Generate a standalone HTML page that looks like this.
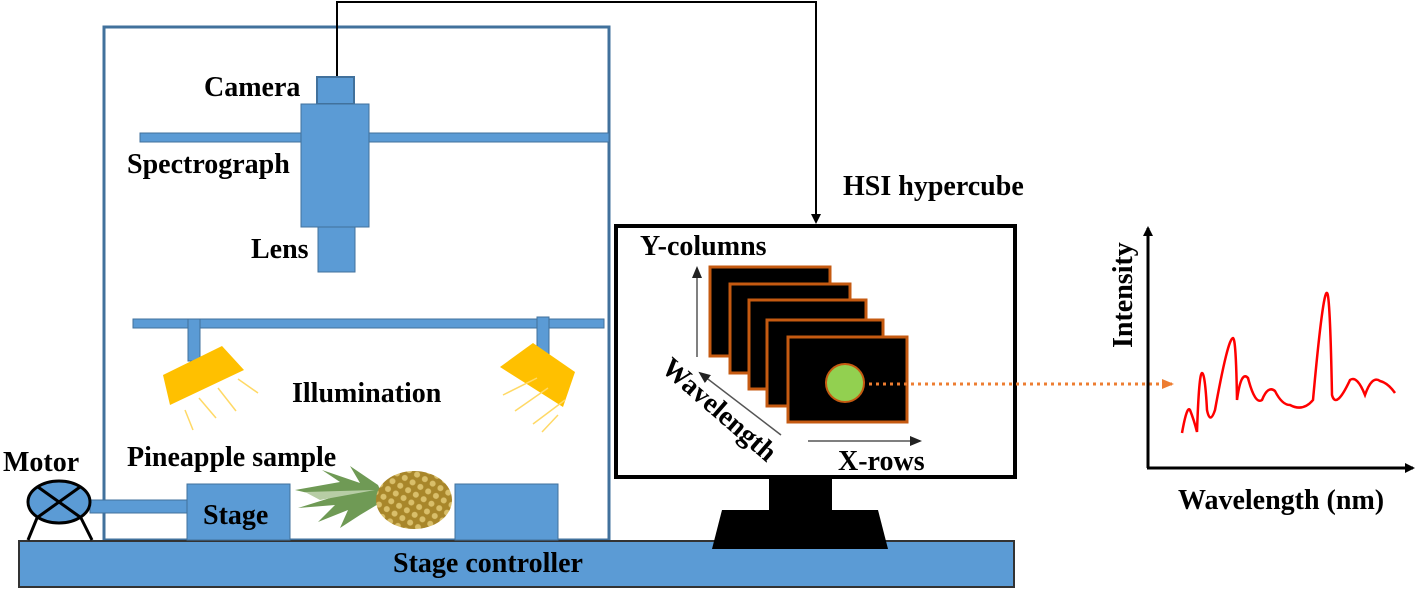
<!DOCTYPE html>
<html><head><meta charset="utf-8"><style>
html,body{margin:0;padding:0;background:#fff;}
svg{display:block;}
text{font-family:"Liberation Serif",serif;font-weight:bold;fill:#000;}
</style></head><body>
<svg width="1417" height="589" viewBox="0 0 1417 589" xmlns="http://www.w3.org/2000/svg">
<defs>
<marker id="ab" markerWidth="10" markerHeight="10" refX="8" refY="5" orient="auto" markerUnits="userSpaceOnUse"><path d="M0,0 L10,5 L0,10 z" fill="#000"/></marker>
<marker id="ag" markerWidth="12" markerHeight="10" refX="10" refY="5" orient="auto" markerUnits="userSpaceOnUse"><path d="M0,0 L12,5 L0,10 z" fill="#222"/></marker>
<marker id="ao" markerWidth="12" markerHeight="10" refX="10" refY="5" orient="auto" markerUnits="userSpaceOnUse"><path d="M0,0 L12,5 L0,10 z" fill="#ed7d31"/></marker>
<pattern id="pp" width="9" height="9" patternUnits="userSpaceOnUse" patternTransform="rotate(30)">
<rect width="9" height="9" fill="#a8862a"/><circle cx="4.5" cy="4.5" r="3" fill="#d9bf6a"/>
</pattern>
</defs>
<rect x="104" y="27" width="505" height="513" fill="none" stroke="#41719c" stroke-width="3"/>
<polyline points="337,77 337,2 816,2 816,222" fill="none" stroke="#000" stroke-width="2" marker-end="url(#ab)"/>
<rect x="140" y="133" width="469" height="9" fill="#5b9bd5" stroke="#41719c" stroke-width="1"/>
<rect x="317" y="77" width="37" height="27" fill="#5b9bd5" stroke="#41719c" stroke-width="2"/>
<rect x="301" y="104" width="68" height="123" fill="#5b9bd5" stroke="#41719c" stroke-width="1"/>
<rect x="318" y="227" width="37" height="45" fill="#5b9bd5" stroke="#41719c" stroke-width="1"/>
<rect x="133" y="319" width="471" height="9" fill="#5b9bd5" stroke="#41719c" stroke-width="1"/>
<rect x="188" y="319" width="12" height="42" fill="#5b9bd5" stroke="#41719c" stroke-width="1"/>
<rect x="537" y="317" width="12" height="38" fill="#5b9bd5" stroke="#41719c" stroke-width="1"/>
<polygon points="163,375 222,346 244,370 170,405" fill="#ffc000"/>
<polygon points="500,367 533,343 575,372 563,407" fill="#ffc000"/>
<g stroke="#ffd966" stroke-width="1.5">
<line x1="238" y1="379" x2="258" y2="393"/><line x1="218" y1="388" x2="236" y2="411"/><line x1="199" y1="398" x2="216" y2="418"/><line x1="185" y1="410" x2="193" y2="430"/>
<line x1="537" y1="378" x2="503" y2="395"/><line x1="548" y1="388" x2="515" y2="411"/><line x1="565" y1="400" x2="533" y2="424"/><line x1="558" y1="415" x2="542" y2="432"/>
</g>
<rect x="19" y="541" width="995" height="46" fill="#5b9bd5" stroke="#333" stroke-width="2"/>
<rect x="90" y="500" width="97" height="13" fill="#5b9bd5" stroke="#41719c" stroke-width="1"/>
<line x1="37" y1="518" x2="28" y2="540" stroke="#000" stroke-width="3"/>
<line x1="81" y1="518" x2="92" y2="540" stroke="#000" stroke-width="3"/>
<ellipse cx="59" cy="502" rx="31" ry="21" fill="#5b9bd5" stroke="#000" stroke-width="3"/>
<line x1="38" y1="487" x2="80" y2="517" stroke="#000" stroke-width="3"/>
<line x1="80" y1="487" x2="38" y2="517" stroke="#000" stroke-width="3"/>
<rect x="187" y="484" width="103" height="56" fill="#5b9bd5" stroke="#41719c" stroke-width="1"/>
<rect x="455" y="484" width="103" height="56" fill="#5b9bd5" stroke="#41719c" stroke-width="1"/>
<!-- pineapple -->
<g>
<path d="M295,490 L340,482 L322,470 L360,483 L350,466 L378,485 L385,500 L360,515 L340,528 L348,510 L318,522 L335,505 L298,508 L330,498 Z" fill="#6f9a55"/>
<path d="M305,492 L375,490 L320,500 Z" fill="#b7cda5"/>
<ellipse cx="414" cy="500" rx="38" ry="29" fill="url(#pp)"/>
</g>
<rect x="616" y="226" width="399" height="251" fill="#fff" stroke="#000" stroke-width="4"/>
<rect x="769" y="479" width="63" height="32" fill="#000"/>
<polygon points="722,510 878,510 888,549 712,549" fill="#000"/>
<g fill="#000" stroke="#c55a11" stroke-width="3">
<rect x="710" y="267" width="120" height="89"/>
<rect x="730" y="284" width="120" height="89"/>
<rect x="749" y="300" width="117" height="89"/>
<rect x="767" y="320" width="116" height="86"/>
<rect x="788" y="337" width="119" height="85"/>
</g>
<circle cx="845" cy="383" r="19" fill="#92d050" stroke="#c55a11" stroke-width="2"/>
<line x1="869" y1="384" x2="1172" y2="384" stroke="#ed7d31" stroke-width="3" stroke-dasharray="3,4" marker-end="url(#ao)"/>
<line x1="697" y1="357" x2="697" y2="268" stroke="#555" stroke-width="1.5" marker-end="url(#ag)"/>
<line x1="781" y1="435" x2="700" y2="373" stroke="#555" stroke-width="1.5" marker-end="url(#ag)"/>
<line x1="808" y1="441" x2="920" y2="441" stroke="#555" stroke-width="1.5" marker-end="url(#ag)"/>
<line x1="1148" y1="468" x2="1148" y2="228" stroke="#000" stroke-width="3" marker-end="url(#ab)"/>
<line x1="1147" y1="468" x2="1413" y2="468" stroke="#000" stroke-width="3" marker-end="url(#ab)"/>
<path d="M1182,433 Q1187,405 1190,410 Q1194,420 1197,432 Q1199,373 1202,373 Q1205,373 1207,410 Q1210,425 1215,410 Q1228,338 1233,338 Q1236,338 1237,400 Q1241,370 1248,378 Q1255,405 1262,400 Q1268,385 1275,391 Q1282,405 1290,405 Q1303,412 1313,400 Q1323,290 1327,293 Q1330,293 1332,395 Q1336,410 1350,380 Q1357,375 1365,395 Q1372,375 1380,381 Q1388,383 1395,393" fill="none" stroke="#ff0000" stroke-width="2.5"/>
<g font-size="28">
<text x="204" y="96">Camera</text>
<text x="127" y="173">Spectrograph</text>
<text x="251" y="258">Lens</text>
<text x="292" y="402">Illumination</text>
<text x="127" y="466">Pineapple sample</text>
<text x="3" y="471">Motor</text>
<text x="203" y="524">Stage</text>
<text x="393" y="572">Stage controller</text>
<text x="843" y="195">HSI hypercube</text>
<text x="640" y="255">Y-columns</text>
<text x="838" y="470">X-rows</text>
<text transform="translate(660,370) rotate(41)">Wavelength</text>
<text transform="translate(1132,348) rotate(-90)">Intensity</text>
<text x="1178" y="509">Wavelength (nm)</text>
</g>
</svg>
</body></html>
